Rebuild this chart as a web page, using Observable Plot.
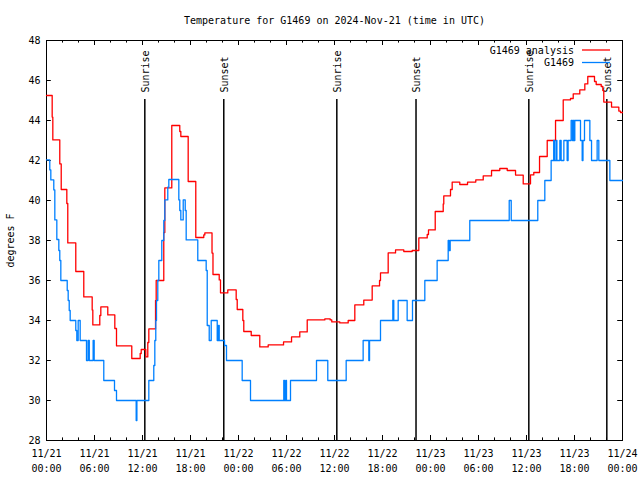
<!DOCTYPE html>
<html><head><meta charset="utf-8">
<script src="https://cdn.jsdelivr.net/npm/d3@7"></script>
<script src="https://cdn.jsdelivr.net/npm/@observablehq/plot@0.6"></script>
<style>body{margin:0;background:#fff} svg{display:block}</style>
</head><body><div id="chart"></div>
<script>
const titleText = "Temperature for G1469 on 2024-Nov-21 (time in UTC)";
const yLabelText = "degrees F";
const legendNames = ["G1469 analysis", "G1469"];
const legendColors = ["#ff0000", "#0080ff"];

// hours since 2024-11-21 00:00 UTC
const redHours = [0,0.71,0.79,1.66,1.84,2.54,2.66,3.66,4.66,5.71,5.79,6.66,6.79,7.66,8.54,8.75,10.66,11.71,11.84,12.41,12.66,12.79,13.63,13.71,14.66,14.79,15.66,16.66,16.79,17.71,18.66,19.66,19.79,20.69,20.81,21.59,21.75,22.66,23.71,23.84,24.54,24.66,25.59,26.66,27.71,29.63,30.63,31.66,32.59,34.79,35.46,35.66,36.66,37.71,38.54,39.66,40.71,41.63,41.75,42.71,43.63,44.66,45.71,46.54,47.59,47.75,48.59,49.59,49.66,50.5,50.71,51.66,52.63,53.66,54.59,55.63,56.66,57.59,58.63,59.59,60.5,60.91,61.63,62.59,63.63,64.59,65.5,65.84,66.66,67.29,67.66,68.5,68.71,69.34,69.54,69.66,70.63,71.54,71.75,72];
const redTemps = [45.25,44.17,43.03,41.83,40.55,39.85,37.88,36.45,35.18,34.53,33.78,34.25,34.68,34.28,33.6,32.73,32.1,32.35,32.55,32.18,32.9,33.58,35.0,36.0,38.4,40.63,43.75,43.45,43.2,40.95,38.15,38.28,38.38,37.37,36.3,36.03,35.38,35.53,35.05,34.55,34.0,33.45,33.25,32.68,32.78,32.93,33.18,33.43,34.03,34.08,34.03,33.93,33.88,34.0,34.78,35.02,35.73,36.0,36.38,37.38,37.53,37.45,37.5,38.13,38.3,38.53,39.45,39.83,40.23,40.55,40.92,40.8,40.92,41.03,41.23,41.5,41.6,41.5,41.27,40.83,41.28,41.4,42.2,43.0,44.0,45.03,45.1,45.33,45.53,45.83,46.2,45.95,45.8,45.7,45.5,44.92,44.67,44.47,44.4,44.4];

const blueHours = [0,0.41,0.54,0.91,1.04,1.29,1.54,1.66,1.79,2.59,2.71,2.84,2.96,3.66,3.79,3.96,4.21,5.0,5.2,5.35,5.83,5.96,7.16,8.5,8.75,11.21,11.3,12.79,13.41,13.54,13.66,13.75,13.91,14.04,14.41,14.66,14.79,15.16,15.29,16.54,16.66,16.79,17.09,17.34,17.46,18.91,19.96,20.09,20.34,20.59,21.34,21.5,21.59,22.25,22.5,24.46,25.5,29.66,29.75,29.91,30.0,30.5,33.75,35.16,37.46,39.58,40.29,40.38,41.75,43.29,43.41,43.96,45.08,45.75,47.29,48.83,50.21,50.34,50.46,52.91,57.84,58.09,61.41,62.29,63.08,63.4,63.5,63.7,63.8,64.17,64.33,64.67,65.08,65.2,65.58,65.75,65.85,65.96,66.04,66.75,66.96,67.06,67.25,67.92,68.13,68.83,69.04,70.42,72];
const blueTemps = [42.03,41.53,41.03,40.53,39.03,38.05,37.5,37.0,36.0,35.5,35.0,34.5,34.0,33.5,33.0,34.0,33.0,32.0,33.0,32.0,33.0,32.0,31.0,30.5,30.0,29.0,30.0,31.0,31.75,33.0,34.0,35.0,36.0,37.0,38.0,39.0,40.03,40.67,41.05,40.03,39.5,39.03,40.03,39.5,38.03,37.0,36.5,33.75,33.0,34.0,33.0,33.75,33.0,32.75,32.0,31.0,30.0,31.0,30.0,31.0,30.0,31.0,32.0,31.0,32.0,33.0,32.0,33.0,34.0,35.0,34.0,35.0,34.0,35.0,36.0,37.0,38.0,37.5,38.0,39.0,40.0,39.0,40.0,41.0,42.0,43.0,42.0,43.0,42.0,43.0,42.0,43.0,42.0,43.0,44.0,43.0,44.0,43.0,44.0,43.0,42.0,43.0,44.0,43.0,42.0,43.0,42.0,41.0,41.0];

const eventHours = [12.29, 22.16, 36.29, 46.19, 60.29, 70.04];
const eventNames = ["Sunrise", "Sunset", "Sunrise", "Sunset", "Sunrise", "Sunset"];

const xTickHours = [0,6,12,18,24,30,36,42,48,54,60,66,72];
const xTickLabels = ["11/21\n00:00","11/21\n06:00","11/21\n12:00","11/21\n18:00","11/22\n00:00","11/22\n06:00","11/22\n12:00","11/22\n18:00","11/23\n00:00","11/23\n06:00","11/23\n12:00","11/23\n18:00","11/24\n00:00"];
const yTicks = [28,30,32,34,36,38,40,42,44,46,48];

const red = redHours.map((h, i) => ({h, v: redTemps[i]}));
const blue = blueHours.map((h, i) => ({h, v: blueTemps[i]}));
const events = eventHours.map((h, i) => ({h, name: eventNames[i]}));
const xMinor = d3.range(0, 73, 2);

const FONT = "DejaVu Sans Mono";

function legendMark(index, scales, values, dims) {
  const g = d3.create("svg:g").attr("font-family", FONT).attr("font-size", 10).attr("fill", "black");
  const right = dims.width - dims.marginRight;
  const top = dims.marginTop;
  legendNames.forEach((name, i) => {
    const y = top + 10 + i * 12.5;
    g.append("text").attr("x", right - 48).attr("y", y).attr("text-anchor", "end").attr("dy", "0.35em").text(name);
    g.append("line").attr("x1", right - 40).attr("x2", right - 12).attr("y1", y).attr("y2", y)
      .attr("stroke", legendColors[i]).attr("stroke-width", 1.3);
  });
  return g.node();
}

const chart = Plot.plot({
  width: 640, height: 480,
  marginLeft: 46, marginRight: 18, marginTop: 40, marginBottom: 40,
  style: {fontFamily: FONT, fontSize: "10px", background: "white", color: "black"},
  x: {domain: [0, 72], axis: null},
  y: {domain: [28, 48], axis: null},
  marks: [
    Plot.frame({stroke: "black", strokeWidth: 1}),
    // inward ticks
    Plot.ruleX(xMinor, {x: d => d, y1: 28, y2: d => d % 6 === 0 ? 28.25 : 28.13, stroke: "black"}),
    Plot.ruleX(xMinor, {x: d => d, y1: 48, y2: d => d % 6 === 0 ? 47.75 : 47.87, stroke: "black"}),
    Plot.ruleY(yTicks, {y: d => d, x1: 0, x2: 0.6, stroke: "black"}),
    Plot.ruleY(yTicks, {y: d => d, x1: 71.4, x2: 72, stroke: "black"}),
    Plot.axisX({ticks: xTickHours, tickSize: 0, tickPadding: 5, label: null, lineHeight: 1.55,
      tickFormat: h => xTickLabels[xTickHours.indexOf(h)]}),
    Plot.axisY({ticks: yTicks, tickSize: 0, tickPadding: 6, label: null}),
    Plot.text([yLabelText], {frameAnchor: "left", dx: -36, rotate: -90, textAnchor: "middle", lineAnchor: "middle"}),
    Plot.text([titleText], {frameAnchor: "top", dy: -20, lineAnchor: "middle"}),
    // sunrise/sunset
    Plot.ruleX(events, {x: "h", y1: 28, y2: 45.05, stroke: "black", strokeWidth: 1.5}),
    Plot.text(events, {x: "h", y: 45.4, text: "name", rotate: -90, textAnchor: "start", lineAnchor: "middle", dx: 1}),
    // series
    Plot.line(red, {x: "h", y: "v", curve: "step-after", stroke: legendColors[0], strokeWidth: 1.3}),
    Plot.line(blue, {x: "h", y: "v", curve: "step-after", stroke: legendColors[1], strokeWidth: 1.3}),
    legendMark
  ]
});
document.getElementById("chart").appendChild(chart);
</script>
</body></html>
